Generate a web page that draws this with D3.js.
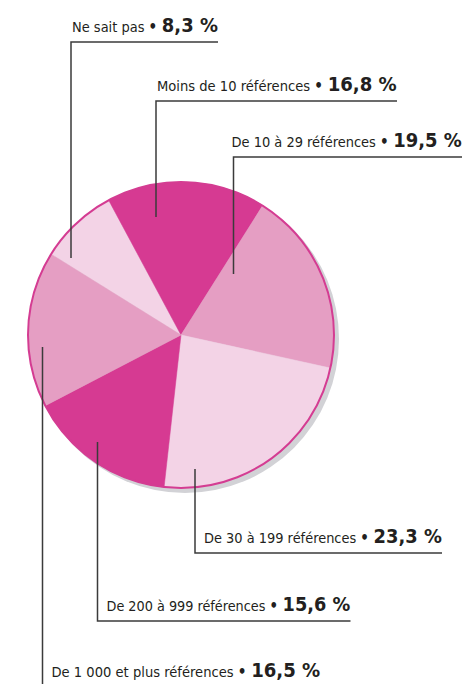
<!DOCTYPE html>
<html>
<head>
<meta charset="utf-8">
<script src="https://cdn.jsdelivr.net/npm/d3@7"></script>
<style>
  html, body { margin: 0; padding: 0; background: #fff; }
  svg { display: block; }
  .lab { font-family: "DejaVu Sans Condensed", "DejaVu Sans", sans-serif; fill: #231f20; }
</style>
</head>
<body>
<svg width="468" height="684"></svg>
<script>
// data, clockwise from the top-left slice
const categories = ["Ne sait pas", "Moins de 10 références", "De 10 à 29 références",
  "De 30 à 199 références", "De 200 à 999 références", "De 1 000 et plus références"];
const values = [8.3, 16.8, 19.5, 23.3, 15.6, 16.5];
const colors = ["#f3d3e6", "#d63a92", "#e59ec3", "#f3d3e6", "#d63a92", "#e59ec3"];

// label layout: anchor point inside slice, underline y, text start offset, text end x
const anchors = [[71, 258], [156, 217], [233.5, 274], [195, 469], [97.5, 442], [42.5, 347]];
const lineYs = [42, 101, 157, 553, 621, 687];
const textDx = [1, 1, -2, 9, 9, 9];
const textEnds = [218, 397, 462, 442, 350.5, 320.5];

const cx = 181, cy = 335, r = 153;

const svg = d3.select("svg");

const fmt = v => d3.format(".1f")(v).replace(".", ",") + " %";

// shadow
svg.append("circle")
    .attr("cx", cx + 4).attr("cy", cy + 4).attr("r", r + 1)
    .attr("fill", "#d2d2d6");

const pie = d3.pie().sort(null).value(d => d)
    .startAngle(-58.1 * Math.PI / 180)
    .endAngle((360 - 58.1) * Math.PI / 180);
const arc = d3.arc().innerRadius(0).outerRadius(r);

const g = svg.append("g").attr("transform", `translate(${cx},${cy})`);
g.selectAll("path")
    .data(pie(values))
    .enter().append("path")
    .attr("d", arc)
    .attr("fill", (d, i) => colors[i])
    .attr("stroke", (d, i) => colors[i])
    .attr("stroke-width", 0.5);

g.append("circle")
    .attr("r", r)
    .attr("fill", "none")
    .attr("stroke", "#d43c92")
    .attr("stroke-width", 2);

// labels
categories.forEach((c, i) => {
    const [ax, ay] = anchors[i];
    const ly = lineYs[i];
    const tx = ax + textDx[i];
    const tg = svg.append("g");
    const t = tg.append("text").attr("class", "lab");
    t.append("tspan").attr("font-size", 14.5).text(c + " ");
    t.append("tspan").attr("font-size", 15).attr("font-weight", "bold").text("\u2022 ");
    t.append("tspan").attr("font-size", 20).attr("font-weight", "bold").text(fmt(values[i]));
    const w = t.node().getComputedTextLength();
    const sx = (textEnds[i] - tx) / w;
    tg.attr("transform", `translate(${tx},${ly - 10}) scale(${sx},1)`);
    svg.append("path")
        .attr("d", `M${ax},${ay}V${ly}H${textEnds[i]}`)
        .attr("fill", "none")
        .attr("stroke", "#3b3b3b")
        .attr("stroke-width", 1.5);
});
</script>
</body>
</html>
